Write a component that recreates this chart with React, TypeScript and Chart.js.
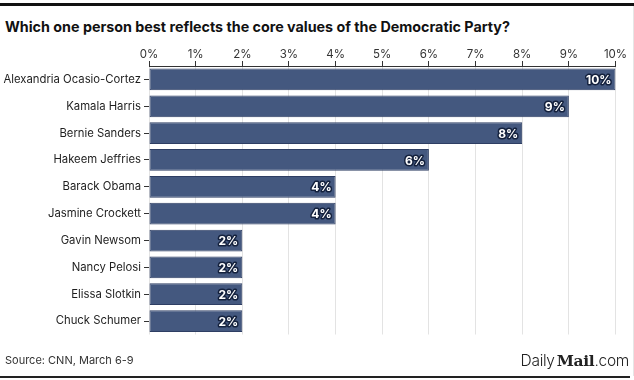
import React, { useEffect, useRef } from "react";
import { Chart, registerables } from "chart.js";

Chart.register(...registerables);

const TITLE = "Which one person best reflects the core values of the Democratic Party?";
const SOURCE = "Source: CNN, March 6-9";
const categories = [
  "Alexandria Ocasio-Cortez",
  "Kamala Harris",
  "Bernie Sanders",
  "Hakeem Jeffries",
  "Barack Obama",
  "Jasmine Crockett",
  "Gavin Newsom",
  "Nancy Pelosi",
  "Elissa Slotkin",
  "Chuck Schumer",
];
const values = [10, 9, 8, 6, 4, 4, 2, 2, 2, 2];
const xMin = 0;
const xMax = 10;
const xStep = 1;

const FONT = "Inter, 'DejaVu Sans', sans-serif";

const labelPlugin = {
  id: "barLabels",
  afterDatasetsDraw(chart: any) {
    const ctx = chart.ctx;
    const meta = chart.getDatasetMeta(0);
    ctx.save();
    ctx.font = `bold 12px ${FONT}`;
    ctx.textAlign = "right";
    ctx.textBaseline = "middle";
    ctx.lineJoin = "round";
    meta.data.forEach((bar: any, i: number) => {
      const txt = `${values[i]}%`;
      const x = bar.x - 4;
      const y = bar.y + 1;
      ctx.strokeStyle = "#14213d";
      ctx.lineWidth = 3;
      ctx.strokeText(txt, x, y);
      ctx.fillStyle = "#ffffff";
      ctx.fillText(txt, x, y);
    });
    ctx.restore();
  },
};

export default function App() {
  const ref = useRef<HTMLCanvasElement | null>(null);
  useEffect(() => {
    if (!ref.current) return;
    const chart = new Chart(ref.current, {
      type: "bar",
      data: {
        labels: categories,
        datasets: [
          {
            data: values,
            backgroundColor: "#44587f",
            borderColor: "#2e3e63",
            borderWidth: 1,
            borderSkipped: false,
            categoryPercentage: 0.81,
            barPercentage: 1,
          },
        ],
      },
      options: {
        indexAxis: "y",
        animation: false,
        responsive: false,
        maintainAspectRatio: false,
        layout: { padding: { left: 0, top: 40, right: 18.5, bottom: 45.5 } },
        plugins: {
          legend: { display: false },
          tooltip: { enabled: false },
        },
        scales: {
          x: {
            position: "top",
            min: xMin,
            max: xMax,
            afterFit(scale: any) {
              scale.height = 26;
            },
            ticks: {
              stepSize: xStep,
              callback: (v: any) => `${v}%`,
              color: "#333333",
              font: { family: FONT, size: 11.5 },
              padding: 0,
              maxRotation: 0,
            },
            grid: {
              color: "#e3e3e3",
              tickColor: "#333333",
              tickLength: 5,
              drawOnChartArea: true,
            },
            border: { display: true, color: "#333333", width: 1 },
          },
          y: {
            afterFit(scale: any) {
              scale.width = 149;
            },
            ticks: {
              color: "#1e1e1e",
              font: { family: FONT, size: 11.3 },
              padding: 3,
            },
            grid: {
              offset: false,
              drawOnChartArea: false,
              tickColor: "#333333",
              tickLength: 5,
            },
            border: { display: false },
          },
        },
      },
      plugins: [labelPlugin],
    });
    return () => chart.destroy();
  }, []);

  return (
    <div
      style={{
        position: "absolute",
        left: 0,
        top: 0,
        width: 634,
        height: 380,
        background: "#ffffff",
        overflow: "hidden",
        fontFamily: FONT,
      }}
    >
      <div style={{ position: "absolute", left: 0, top: 3, width: 634, height: 3, background: "#111" }} />
      <div style={{ position: "absolute", right: 0, top: 6, width: 1, height: 370, background: "#e6e6e6" }} />
      <div
        style={{
          position: "absolute",
          left: 5,
          top: 17,
          fontSize: 14.3,
          fontWeight: 700,
          color: "#111",
          whiteSpace: "nowrap",
          lineHeight: "20px",
        }}
      >
        {TITLE}
      </div>
      <canvas ref={ref} width={634} height={380} style={{ position: "absolute", left: 0, top: 0 }} />
      <div
        style={{
          position: "absolute",
          left: 5,
          top: 353,
          fontSize: 11,
          color: "#333",
          whiteSpace: "nowrap",
          lineHeight: "14px",
        }}
      >
        {SOURCE}
      </div>
      <div
        style={{
          position: "absolute",
          right: 5,
          top: 350,
          fontSize: 15.5,
          color: "#222",
          whiteSpace: "nowrap",
          lineHeight: "22px",
          letterSpacing: -0.3,
        }}
      >
        <span style={{ fontWeight: 300 }}>Daily</span>
        <span style={{ fontFamily: "'DejaVu Serif', serif", fontWeight: 900, marginLeft: 2 }}>Mail</span>
        <span style={{ fontWeight: 300 }}>.com</span>
      </div>
      <div style={{ position: "absolute", left: 0, top: 376, width: 630, height: 2, background: "#222" }} />
    </div>
  );
}
